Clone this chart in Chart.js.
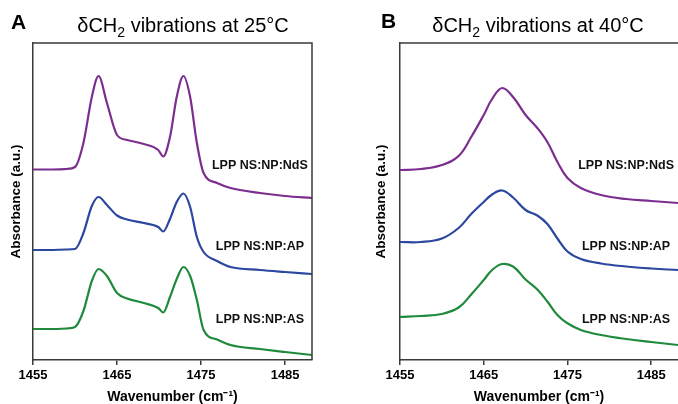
<!DOCTYPE html>
<html>
<head>
<meta charset="utf-8">
<script src="https://cdn.jsdelivr.net/npm/chart.js@4/dist/chart.umd.min.js"></script>
<style>
  body { margin: 0; background: #fff; width: 678px; height: 404px; overflow: hidden; position: relative; font-family: 'Liberation Sans', Arial, sans-serif; }
  .panel { position: absolute; top: 0; width: 339px; height: 404px; }
  .letter { position: absolute; font-weight: bold; font-size: 21px; line-height: 21px; color: #000; }
  .ptitle { position: absolute; font-size: 20px; line-height: 20px; color: #000; transform: translateX(-50%); white-space: nowrap; }
  .ptitle sub { font-size: 14px; vertical-align: -5px; line-height: 0; }
</style>
</head>
<body>
<div class="panel" style="left:0"><canvas id="chartA" width="339" height="404"></canvas></div>
<div class="panel" style="left:339px"><canvas id="chartB" width="339" height="404"></canvas></div>
<div class="letter" style="left:11px; top:11px">A</div>
<div class="ptitle" style="left:183px; top:15px">&delta;CH<sub>2</sub> vibrations at 25&deg;C</div>
<div class="letter" style="left:381px; top:10px">B</div>
<div class="ptitle" style="left:538px; top:15px">&delta;CH<sub>2</sub> vibrations at 40&deg;C</div>
<script>
// wavenumbers (cm-1) and stacked absorbance (a.u.)
const waveA = [1455, 1457, 1459, 1460, 1461, 1462, 1462.8, 1463.8, 1465, 1466.2, 1468.2, 1469.9, 1470.5, 1471.3, 1472.1, 1472.9, 1473.7, 1474.5, 1475.3, 1476.9, 1478.5, 1482, 1485, 1488.2];
const ndsA = [1.905, 1.905, 1.91, 1.93, 2.17, 2.63, 2.84, 2.57, 2.25, 2.20, 2.16, 2.10, 2.035, 2.23, 2.63, 2.84, 2.63, 2.17, 1.87, 1.77, 1.72, 1.67, 1.64, 1.62];
const apA = [1.10, 1.10, 1.105, 1.11, 1.27, 1.54, 1.63, 1.55, 1.445, 1.405, 1.37, 1.33, 1.285, 1.41, 1.58, 1.665, 1.53, 1.23, 1.08, 0.99, 0.93, 0.90, 0.88, 0.86];
const asA = [0.31, 0.31, 0.315, 0.33, 0.49, 0.79, 0.91, 0.84, 0.67, 0.615, 0.57, 0.52, 0.475, 0.63, 0.81, 0.93, 0.84, 0.60, 0.30, 0.205, 0.15, 0.11, 0.08, 0.05];

const waveB = [1455, 1457.5, 1460, 1462, 1463.5, 1465, 1466, 1467.2, 1468.5, 1470, 1471.4, 1472.6, 1473.8, 1475, 1476.6, 1479, 1482, 1485, 1488.2];
const ndsB = [1.90, 1.91, 1.95, 2.04, 2.23, 2.45, 2.61, 2.72, 2.63, 2.45, 2.32, 2.18, 1.98, 1.82, 1.72, 1.65, 1.61, 1.59, 1.57];
const apB = [1.18, 1.18, 1.215, 1.32, 1.46, 1.58, 1.655, 1.695, 1.625, 1.50, 1.445, 1.36, 1.215, 1.085, 1.01, 0.965, 0.935, 0.915, 0.90];
const asB = [0.43, 0.44, 0.46, 0.525, 0.655, 0.80, 0.90, 0.96, 0.935, 0.805, 0.705, 0.585, 0.45, 0.367, 0.30, 0.25, 0.21, 0.18, 0.15];

const seriesNames = ['LPP NS:NP:NdS', 'LPP NS:NP:AP', 'LPP NS:NP:AS'];
const xTicks = [1455, 1465, 1475, 1485];
const colors = ['#7b2e8e', '#2b47a0', '#1f8a3b'];

Chart.defaults.font.family = "'Liberation Sans', Arial, sans-serif";
Chart.defaults.color = '#000';

// frame on top (and right) plus the curve labels
const panelDecor = {
    id: 'panelDecor',
    afterDatasetsDraw(chart, args, opts) {
        const { ctx, chartArea, scales } = chart;
        ctx.save();
        ctx.strokeStyle = '#3a3a3a';
        ctx.lineWidth = 1.5;
        ctx.beginPath();
        ctx.moveTo(chartArea.left, chartArea.top);
        ctx.lineTo(chartArea.right, chartArea.top);
        if (opts.rightEdge) ctx.lineTo(chartArea.right, chartArea.bottom);
        ctx.stroke();
        ctx.font = "bold 12.5px 'Liberation Sans', Arial, sans-serif";
        ctx.fillStyle = '#111';
        ctx.textAlign = 'center';
        ctx.textBaseline = 'middle';
        seriesNames.forEach((name, i) => {
            ctx.fillText(name, scales.x.getPixelForValue(opts.labelX), scales.y.getPixelForValue(opts.labelY[i]));
        });
        ctx.restore();
    }
};

function makePanel(canvasId, waves, series, pad, yWidth, rightEdge, smooth) {
    const ctx = document.getElementById(canvasId);
    new Chart(ctx, {
        type: 'line',
        data: {
            datasets: series.map((vals, i) => ({
                label: seriesNames[i],
                data: waves.map((w, j) => ({ x: w, y: vals[j] })),
                borderColor: colors[i],
                borderWidth: 2.2,
                pointRadius: 0,
                fill: false,
                cubicInterpolationMode: smooth,
                tension: 0.4
            }))
        },
        options: {
            responsive: false,
            animation: false,
            layout: { padding: pad },
            plugins: {
                legend: { display: false },
                tooltip: { enabled: false },
                panelDecor: { rightEdge: rightEdge, labelX: 1482, labelY: [1.94, 1.135, 0.40] }
            },
            scales: {
                x: {
                    type: 'linear',
                    min: 1455,
                    max: 1488.2,
                    afterBuildTicks: (scale) => { scale.ticks = xTicks.map(v => ({ value: v })); },
                    afterFit: (scale) => { scale.height = 44; },
                    grid: { display: true, drawOnChartArea: false, drawTicks: true, tickLength: 5, color: '#3a3a3a', lineWidth: 1.5 },
                    border: { display: true, color: '#3a3a3a', width: 1.5 },
                    ticks: { font: { size: 13, weight: 'bold' }, padding: 3, maxRotation: 0, callback: (v) => v },
                    title: { display: true, text: 'Wavenumber (cm\u207B\u00B9)', font: { size: 14, weight: 'bold', lineHeight: 1 }, padding: { top: 0, bottom: 0 } }
                },
                y: {
                    min: 0,
                    max: 3.17,
                    afterFit: (scale) => { scale.width = yWidth; },
                    grid: { display: false },
                    border: { display: true, color: '#3a3a3a', width: 1.5 },
                    ticks: { display: false },
                    title: { display: true, text: 'Absorbance (a.u.)', font: { size: 13.5, weight: 'bold', lineHeight: 1 }, padding: { top: 10, bottom: 0 } }
                }
            }
        },
        plugins: [panelDecor]
    });
}

makePanel('chartA', waveA, [ndsA, apA, asA], { left: 0, right: 27, top: 43, bottom: 0 }, 33, true, 'monotone');
makePanel('chartB', waveB, [ndsB, apB, asB], { left: 26, right: 0, top: 43, bottom: 0 }, 35, false, 'default');
</script>
</body>
</html>
